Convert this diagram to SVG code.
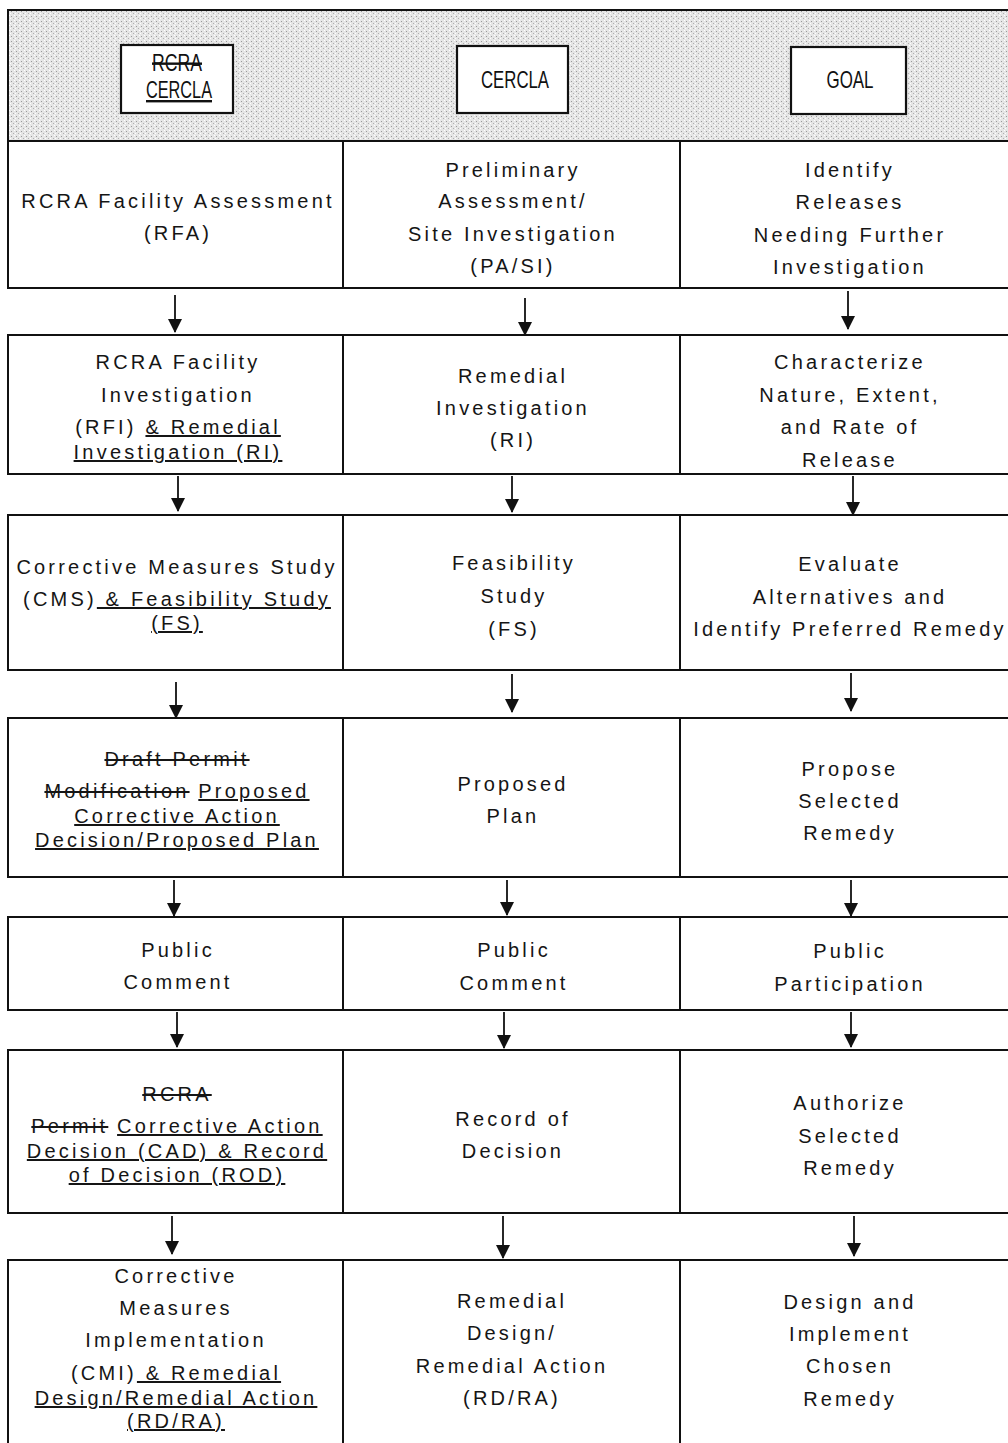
<svg xmlns="http://www.w3.org/2000/svg" width="1008" height="1443" viewBox="0 0 1008 1443">
<style>
.bg{fill:#ffffff}
.cell{fill:#ffffff;stroke:#111;stroke-width:2}
.hdr{stroke:#111;stroke-width:2}
.hbox{fill:#ffffff;stroke:#111;stroke-width:2.2}
.div{stroke:#111;stroke-width:2}
.t{font-family:"Liberation Sans",Arial,sans-serif;font-size:20px;letter-spacing:3.2px;text-anchor:middle;fill:#151515}
.h{font-family:"Liberation Sans",Arial,sans-serif;font-size:24px;text-anchor:middle;fill:#111}
.u{text-decoration:underline}
.s{text-decoration:line-through}
.arr{stroke:#111;stroke-width:1.8;fill:none;marker-end:url(#ah)}
</style>
<defs>
<pattern id="stip" width="5" height="5" patternUnits="userSpaceOnUse">
<rect width="5" height="5" fill="#e6e6e6"/>
<rect x="1" y="1" width="1" height="1" fill="#9a9a9a"/>
<rect x="3" y="3" width="1" height="1" fill="#b0b0b0"/>
<rect x="4" y="0" width="1" height="1" fill="#ffffff"/>
<rect x="0" y="3" width="1" height="1" fill="#ffffff"/>
</pattern>
<marker id="ah" viewBox="0 0 14 14" refX="13" refY="7" orient="auto" markerWidth="14" markerHeight="14" markerUnits="userSpaceOnUse">
<path d="M0,0 L14,7 L0,14 z" fill="#111"/>
</marker>
</defs>
<rect class="bg" x="0" y="0" width="1008" height="1443"/>

<g id="header">
<rect class="hdr" x="8" y="10" width="1010" height="131" fill="url(#stip)"/>
</g>
<g id="hdr-rcra-cercla">
<rect class="hbox" x="121" y="45" width="112" height="68"/>
<text class="h" x="177" y="71" font-size="19" textLength="50" lengthAdjust="spacingAndGlyphs"><tspan class="s">RCRA</tspan></text>
<text class="h" x="179" y="98" font-size="19" textLength="66" lengthAdjust="spacingAndGlyphs"><tspan class="u">CERCLA</tspan></text>
</g>
<g id="hdr-cercla">
<rect class="hbox" x="457" y="46" width="111" height="67"/>
<text class="h" x="515" y="88" textLength="68" lengthAdjust="spacingAndGlyphs">CERCLA</text>
</g>
<g id="hdr-goal">
<rect class="hbox" x="791" y="47" width="115" height="67"/>
<text class="h" x="850" y="88" textLength="47" lengthAdjust="spacingAndGlyphs">GOAL</text>
</g>

<!-- Row 1 -->
<g id="row1">
<rect class="cell" x="8" y="141" width="1010" height="147"/>
<line class="div" x1="343" y1="141" x2="343" y2="288"/>
<line class="div" x1="680" y1="141" x2="680" y2="288"/>
</g>
<g id="n-rfa"><text class="t" x="178" y="208">RCRA Facility Assessment</text><text class="t" x="178" y="240">(RFA)</text></g>
<g id="n-pasi"><text class="t" x="513" y="177">Preliminary</text><text class="t" x="513" y="208">Assessment/</text><text class="t" x="513" y="241">Site Investigation</text><text class="t" x="513" y="273">(PA/SI)</text></g>
<g id="n-goal1"><text class="t" x="850" y="177">Identify</text><text class="t" x="850" y="209">Releases</text><text class="t" x="850" y="242">Needing Further</text><text class="t" x="850" y="274">Investigation</text></g>

<!-- Row 2 -->
<g id="row2">
<rect class="cell" x="8" y="335" width="1010" height="139"/>
<line class="div" x1="343" y1="335" x2="343" y2="474"/>
<line class="div" x1="680" y1="335" x2="680" y2="474"/>
</g>
<g id="n-rfi"><text class="t" x="178" y="369">RCRA Facility</text><text class="t" x="178" y="402">Investigation</text><text class="t" x="178" y="434">(RFI) <tspan class="u">&amp; Remedial</tspan></text><text class="t" x="178" y="459"><tspan class="u">Investigation (RI)</tspan></text></g>
<g id="n-ri"><text class="t" x="513" y="383">Remedial</text><text class="t" x="513" y="415">Investigation</text><text class="t" x="513" y="447">(RI)</text></g>
<g id="n-goal2"><text class="t" x="850" y="369">Characterize</text><text class="t" x="850" y="402">Nature, Extent,</text><text class="t" x="850" y="434">and Rate of</text><text class="t" x="850" y="467">Release</text></g>

<!-- Row 3 -->
<g id="row3">
<rect class="cell" x="8" y="515" width="1010" height="155"/>
<line class="div" x1="343" y1="515" x2="343" y2="670"/>
<line class="div" x1="680" y1="515" x2="680" y2="670"/>
</g>
<g id="n-cms"><text class="t" x="177" y="574">Corrective Measures Study</text><text class="t" x="177" y="606">(CMS)<tspan class="u"> &amp; Feasibility Study</tspan></text><text class="t" x="177" y="630"><tspan class="u">(FS)</tspan></text></g>
<g id="n-fs"><text class="t" x="514" y="570">Feasibility</text><text class="t" x="514" y="603">Study</text><text class="t" x="514" y="636">(FS)</text></g>
<g id="n-goal3"><text class="t" x="850" y="571">Evaluate</text><text class="t" x="850" y="604">Alternatives and</text><text class="t" x="850" y="636">Identify Preferred Remedy</text></g>

<!-- Row 4 -->
<g id="row4">
<rect class="cell" x="8" y="718" width="1010" height="159"/>
<line class="div" x1="343" y1="718" x2="343" y2="877"/>
<line class="div" x1="680" y1="718" x2="680" y2="877"/>
</g>
<g id="n-pcad"><text class="t" x="177" y="766"><tspan class="s">Draft Permit</tspan></text><text class="t" x="177" y="798"><tspan class="s">Modification</tspan> <tspan class="u">Proposed</tspan></text><text class="t" x="177" y="823"><tspan class="u">Corrective Action</tspan></text><text class="t" x="177" y="847"><tspan class="u">Decision/Proposed Plan</tspan></text></g>
<g id="n-pp"><text class="t" x="513" y="791">Proposed</text><text class="t" x="513" y="823">Plan</text></g>
<g id="n-goal4"><text class="t" x="850" y="776">Propose</text><text class="t" x="850" y="808">Selected</text><text class="t" x="850" y="840">Remedy</text></g>

<!-- Row 5 -->
<g id="row5">
<rect class="cell" x="8" y="917" width="1010" height="93"/>
<line class="div" x1="343" y1="917" x2="343" y2="1010"/>
<line class="div" x1="680" y1="917" x2="680" y2="1010"/>
</g>
<g id="n-pc1"><text class="t" x="178" y="957">Public</text><text class="t" x="178" y="989">Comment</text></g>
<g id="n-pc2"><text class="t" x="514" y="957">Public</text><text class="t" x="514" y="990">Comment</text></g>
<g id="n-goal5"><text class="t" x="850" y="958">Public</text><text class="t" x="850" y="991">Participation</text></g>

<!-- Row 6 -->
<g id="row6">
<rect class="cell" x="8" y="1050" width="1010" height="163"/>
<line class="div" x1="343" y1="1050" x2="343" y2="1213"/>
<line class="div" x1="680" y1="1050" x2="680" y2="1213"/>
</g>
<g id="n-cad"><text class="t" x="177" y="1101"><tspan class="s">RCRA</tspan></text><text class="t" x="177" y="1133"><tspan class="s">Permit</tspan> <tspan class="u">Corrective Action</tspan></text><text class="t" x="177" y="1158"><tspan class="u">Decision (CAD) &amp; Record</tspan></text><text class="t" x="177" y="1182"><tspan class="u">of Decision (ROD)</tspan></text></g>
<g id="n-rod"><text class="t" x="513" y="1126">Record of</text><text class="t" x="513" y="1158">Decision</text></g>
<g id="n-goal6"><text class="t" x="850" y="1110">Authorize</text><text class="t" x="850" y="1143">Selected</text><text class="t" x="850" y="1175">Remedy</text></g>

<!-- Row 7 -->
<g id="row7">
<rect class="cell" x="8" y="1260" width="1010" height="200"/>
<line class="div" x1="343" y1="1260" x2="343" y2="1443"/>
<line class="div" x1="680" y1="1260" x2="680" y2="1443"/>
</g>
<g id="n-cmi"><text class="t" x="176" y="1283">Corrective</text><text class="t" x="176" y="1315">Measures</text><text class="t" x="176" y="1347">Implementation</text><text class="t" x="176" y="1380">(CMI)<tspan class="u"> &amp; Remedial</tspan></text><text class="t" x="176" y="1405"><tspan class="u">Design/Remedial Action</tspan></text><text class="t" x="176" y="1428"><tspan class="u">(RD/RA)</tspan></text></g>
<g id="n-rdra"><text class="t" x="512" y="1308">Remedial</text><text class="t" x="512" y="1340">Design/</text><text class="t" x="512" y="1373">Remedial Action</text><text class="t" x="512" y="1405">(RD/RA)</text></g>
<g id="n-goal7"><text class="t" x="850" y="1309">Design and</text><text class="t" x="850" y="1341">Implement</text><text class="t" x="850" y="1373">Chosen</text><text class="t" x="850" y="1406">Remedy</text></g>

<g id="connectors">
<line class="arr" x1="175" y1="295" x2="175" y2="332"/>
<line class="arr" x1="525" y1="298" x2="525" y2="335"/>
<line class="arr" x1="848" y1="291" x2="848" y2="329"/>

<line class="arr" x1="178" y1="476" x2="178" y2="511"/>
<line class="arr" x1="512" y1="476" x2="512" y2="512"/>
<line class="arr" x1="853" y1="476" x2="853" y2="515"/>

<line class="arr" x1="176" y1="682" x2="176" y2="718"/>
<line class="arr" x1="512" y1="674" x2="512" y2="712"/>
<line class="arr" x1="851" y1="673" x2="851" y2="711"/>

<line class="arr" x1="174" y1="880" x2="174" y2="916"/>
<line class="arr" x1="507" y1="880" x2="507" y2="915"/>
<line class="arr" x1="851" y1="880" x2="851" y2="916"/>

<line class="arr" x1="177" y1="1012" x2="177" y2="1047"/>
<line class="arr" x1="504" y1="1012" x2="504" y2="1048"/>
<line class="arr" x1="851" y1="1012" x2="851" y2="1047"/>

<line class="arr" x1="172" y1="1216" x2="172" y2="1254"/>
<line class="arr" x1="503" y1="1216" x2="503" y2="1258"/>
<line class="arr" x1="854" y1="1216" x2="854" y2="1256"/>
</g>
</svg>
